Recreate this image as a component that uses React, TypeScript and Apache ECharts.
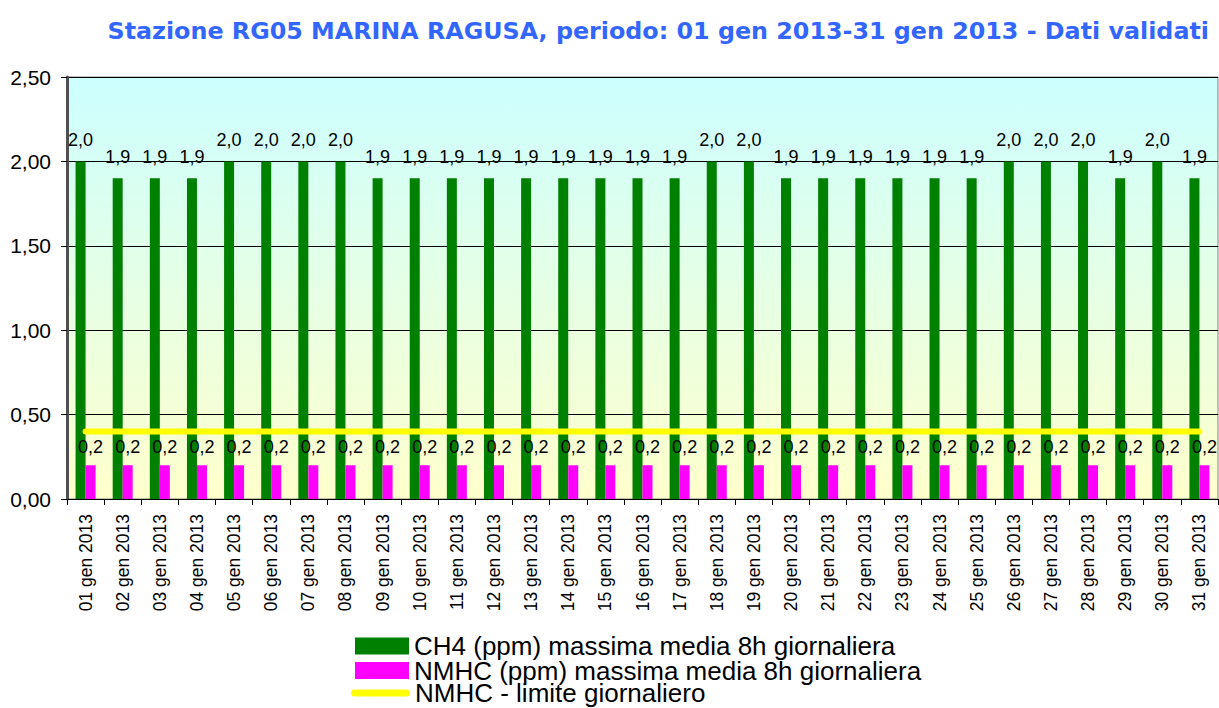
import React, { useEffect, useRef } from "react";
import * as echarts from "echarts";

const TITLE = "Stazione RG05 MARINA RAGUSA, periodo: 01 gen 2013-31 gen 2013 - Dati validati";
const categories = [
  "01 gen 2013", "02 gen 2013", "03 gen 2013", "04 gen 2013", "05 gen 2013", "06 gen 2013", "07 gen 2013", "08 gen 2013",
  "09 gen 2013", "10 gen 2013", "11 gen 2013", "12 gen 2013", "13 gen 2013", "14 gen 2013", "15 gen 2013", "16 gen 2013",
  "17 gen 2013", "18 gen 2013", "19 gen 2013", "20 gen 2013", "21 gen 2013", "22 gen 2013", "23 gen 2013", "24 gen 2013",
  "25 gen 2013", "26 gen 2013", "27 gen 2013", "28 gen 2013", "29 gen 2013", "30 gen 2013", "31 gen 2013",
];
const ch4Values = [2.0, 1.9, 1.9, 1.9, 2.0, 2.0, 2.0, 2.0, 1.9, 1.9, 1.9, 1.9, 1.9, 1.9, 1.9, 1.9, 1.9, 2.0, 2.0, 1.9, 1.9, 1.9, 1.9, 1.9, 1.9, 2.0, 2.0, 2.0, 1.9, 2.0, 1.9];
const nmhcValues = [0.2, 0.2, 0.2, 0.2, 0.2, 0.2, 0.2, 0.2, 0.2, 0.2, 0.2, 0.2, 0.2, 0.2, 0.2, 0.2, 0.2, 0.2, 0.2, 0.2, 0.2, 0.2, 0.2, 0.2, 0.2, 0.2, 0.2, 0.2, 0.2, 0.2, 0.2];
const limitValues = [0.4, 0.4, 0.4, 0.4, 0.4, 0.4, 0.4, 0.4, 0.4, 0.4, 0.4, 0.4, 0.4, 0.4, 0.4, 0.4, 0.4, 0.4, 0.4, 0.4, 0.4, 0.4, 0.4, 0.4, 0.4, 0.4, 0.4, 0.4, 0.4, 0.4, 0.4];
const seriesNames = [
  "CH4 (ppm) massima media 8h giornaliera",
  "NMHC (ppm) massima media 8h giornaliera",
  "NMHC - limite giornaliero",
];

const FONT = "'Liberation Sans', Arial, sans-serif";
const comma = (v: number, d: number) => v.toFixed(d).replace(".", ",");

const legendText = {
  fontFamily: FONT,
  fontSize: 26,
  lineHeight: 22,
  color: "#000",
};

export default function App() {
  const ref = useRef<HTMLDivElement>(null);
  useEffect(() => {
    if (!ref.current) return;
    const chart = echarts.init(ref.current, null, { renderer: "svg" });
    chart.setOption({
      animation: false,
      backgroundColor: "#ffffff",
      title: {
        text: TITLE,
        right: 5,
        top: 14,
        textStyle: {
          fontFamily: "'DejaVu Sans', Verdana, sans-serif",
          fontWeight: "bold",
          fontSize: 23.8,
          color: "#3366FF",
        },
      },
      legend: [
        {
          left: 350,
          top: 628,
          itemWidth: 54,
          itemHeight: 17,
          textStyle: legendText,
          data: [{ name: seriesNames[0], icon: "rect" }],
        },
        {
          left: 350,
          top: 652.5,
          itemWidth: 54,
          itemHeight: 17,
          textStyle: legendText,
          data: [{ name: seriesNames[1], icon: "rect" }],
        },
        {
          left: 346,
          top: 675,
          itemWidth: 59,
          itemHeight: 7,
          textStyle: legendText,
          data: [
            {
              name: seriesNames[2],
              icon: "path://M3.5,0 L55.5,0 A3.5,3.5 0 0 1 55.5,7 L3.5,7 A3.5,3.5 0 0 1 3.5,0 Z",
              itemStyle: { color: "#FFFF00", borderWidth: 0 },
            },
          ],
        },
      ],
      grid: {
        left: 67,
        top: 77,
        right: 1,
        bottom: 209,
        show: true,
        borderColor: "#808080",
        borderWidth: 1,
        backgroundColor: new echarts.graphic.LinearGradient(0, 0, 0, 1, [
          { offset: 0, color: "#CCFFFF" },
          { offset: 1, color: "#FFFFCC" },
        ]),
      },
      xAxis: {
        type: "category",
        data: categories,
        axisLine: { lineStyle: { color: "#000", width: 1 } },
        axisTick: { show: true, interval: 0, length: 6, lineStyle: { color: "#000" } },
        axisLabel: {
          interval: 0,
          rotate: 90,
          fontFamily: FONT,
          fontSize: 17.5,
          color: "#000",
          margin: 15,
        },
      },
      yAxis: {
        type: "value",
        min: 0,
        max: 2.5,
        interval: 0.5,
        axisLine: { show: true, lineStyle: { color: "#505050", width: 3 } },
        axisTick: { show: true, length: 6, lineStyle: { color: "#000" } },
        axisLabel: {
          fontFamily: FONT,
          fontSize: 21,
          color: "#000",
          margin: 16,
          formatter: (v: number) => comma(v, 2),
        },
        splitLine: { show: true, lineStyle: { color: "#000", width: 1 } },
      },
      series: [
        {
          name: seriesNames[0],
          type: "bar",
          data: ch4Values,
          barWidth: 10,
          barGap: "0%",
          itemStyle: { color: "#008000" },
          label: {
            show: true,
            position: "top",
            distance: 12,
            fontFamily: FONT,
            fontSize: 18,
            color: "#000",
            formatter: (p: any) => comma(p.value, 1),
          },
        },
        {
          name: seriesNames[1],
          type: "bar",
          data: nmhcValues,
          barWidth: 10,
          itemStyle: { color: "#FF00FF" },
          label: {
            show: true,
            position: "top",
            distance: 9,
            fontFamily: FONT,
            fontSize: 18,
            color: "#000",
            formatter: (p: any) => comma(p.value, 1),
          },
        },
        {
          name: seriesNames[2],
          type: "line",
          data: limitValues,
          symbol: "none",
          z: 5,
          itemStyle: { color: "#FFFF00" },
          lineStyle: { color: "#FFFF00", width: 6, cap: "round" },
        },
      ],
    });
    return () => chart.dispose();
  }, []);
  return (
    <div
      ref={ref}
      style={{ position: "fixed", left: 0, top: 0, width: 1219, height: 708 }}
    />
  );
}
